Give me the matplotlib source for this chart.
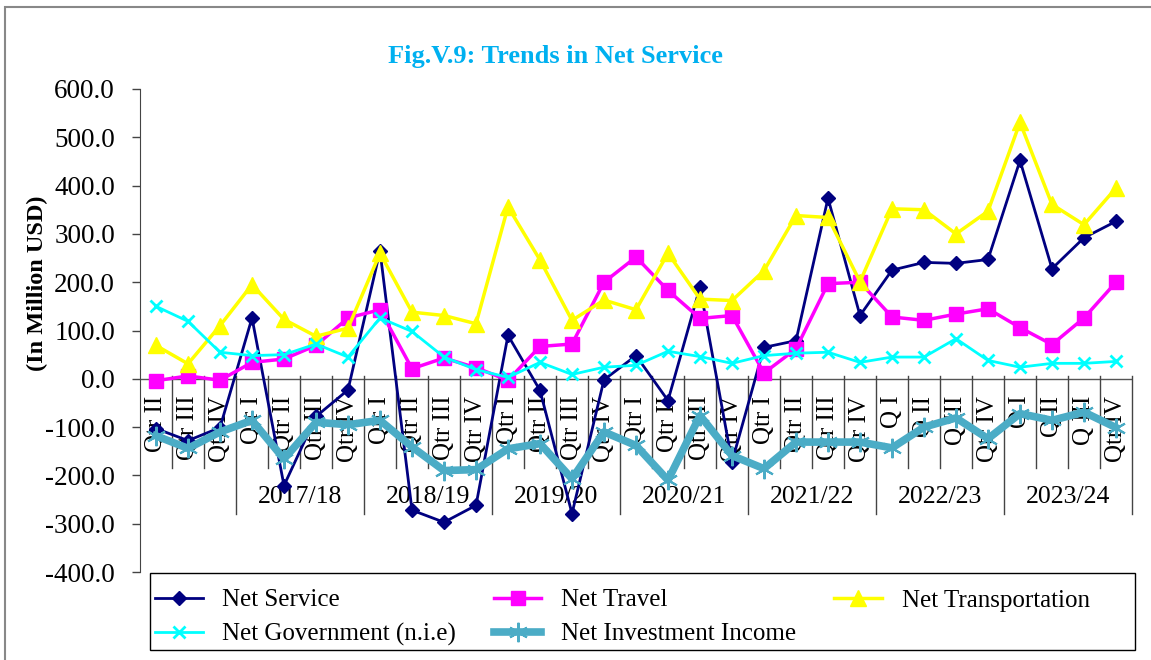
import numpy as np
import matplotlib.pyplot as plt
from matplotlib.patches import Rectangle

plt.rcParams['font.family'] = ['Liberation Serif', 'DejaVu Serif']

# quarter labels (first three belong to 2016/17, no group label shown)
quarters = ['Qtr II', 'Qtr III', 'Qtr IV',
            'Qtr I', 'Qtr II', 'Qtr III', 'Qtr IV',
            'Qtr I', 'Qtr II', 'Qtr III', 'Qtr IV',
            'Qtr I', 'Qtr II', 'Qtr III', 'Qtr IV',
            'Qtr I', 'Qtr II', 'Qtr III', 'Qtr IV',
            'Qtr I', 'Qtr II', 'Qtr III', 'Qtr IV',
            'Q I', 'Q II', 'Q III', 'Qtr IV',
            'Q I', 'Q II', 'Q III', 'Qtr IV']
years = ['2017/18', '2018/19', '2019/20', '2020/21', '2021/22', '2022/23', '2023/24']

net_service = [-103, -128, -101, 126, -221, -78, -23, 265, -272, -297, -262,
               90, -24, -279, -2, 48, -45, 190, -172, 65, 79, 374, 131,
               225, 241, 239, 247, 452, 228, 292, 326]
net_travel = [-4, 6, -3, 34, 41, 69, 126, 143, 21, 43, 23,
              -3, 67, 72, 200, 252, 183, 125, 131, 12, 62, 197, 200,
              128, 121, 134, 145, 106, 71, 126, 200]
net_transport = [69, 31, 110, 195, 123, 88, 105, 260, 138, 131, 114,
                 356, 246, 121, 163, 143, 260, 165, 162, 224, 338, 334, 201,
                 352, 350, 300, 347, 531, 361, 319, 395]
net_government = [150, 119, 55, 48, 50, 72, 45, 126, 98, 45, 19,
                  3, 34, 9, 24, 28, 57, 46, 32, 48, 53, 55, 34,
                  45, 45, 83, 38, 24, 32, 32, 36]
net_investment = [-118, -144, -110, -86, -166, -90, -95, -86, -141, -190, -188,
                  -145, -134, -207, -110, -138, -210, -76, -159, -186, -131, -131, -131,
                  -143, -100, -81, -124, -72, -86, -69, -101]

x = np.arange(len(quarters))

fig = plt.figure(figsize=(11.51, 6.6), dpi=100)
ax = fig.add_axes([140/1151, 1-572/660, 992/1151, 483/660])

ns, = ax.plot(x, net_service, color='#000080', lw=2, marker='D', ms=7, label='Net Service', zorder=5)
nt, = ax.plot(x, net_travel, color='#FF00FF', lw=2.5, marker='s', ms=10, label='Net Travel', zorder=6)
ntr, = ax.plot(x, net_transport, color='#FFFF00', lw=2.5, marker='^', ms=11, label='Net Transportation', zorder=7)
ng, = ax.plot(x, net_government, color='#00FFFF', lw=2, marker='x', ms=9, mew=2,
              label='Net Government (n.i.e)', zorder=8)
ni, = ax.plot(x, net_investment, color='#4BACC6', lw=5.5, marker=(6, 2, 0), ms=14, mew=1.5,
              label='Net Investment Income', zorder=9)

ax.set_xlim(-0.5, len(quarters) - 0.5)
ax.set_ylim(-400, 600)
ax.set_yticks(np.arange(-400, 601, 100))
ax.set_yticklabels(['%.1f' % v for v in np.arange(-400, 601, 100)], fontsize=19.5)
ax.tick_params(axis='y', length=6, width=1, color='#444444', pad=12)
ax.set_xticks([])
for s in ['top', 'right', 'bottom']:
    ax.spines[s].set_visible(False)
ax.spines['left'].set_color('#444444')
ax.axhline(0, color='#555555', lw=1, zorder=1)

# category axis drawn at zero
for i, q in enumerate(quarters):
    ax.text(i, -35, q, rotation=90, ha='center', va='top', fontsize=18, zorder=2)
bounds = np.arange(0.5, len(quarters), 1.0)
group_bounds = [2.5 + 4 * k for k in range(len(years) + 1)]
for b in bounds:
    if b in group_bounds:
        ax.plot([b, b], [6, -279], color='#444444', lw=1, zorder=1, clip_on=False)
    else:
        ax.plot([b, b], [6, -184], color='#444444', lw=1, zorder=1, clip_on=False)
for k, yr in enumerate(years):
    ax.text(4.5 + 4 * k, -245, yr, ha='center', va='center', fontsize=18.5, zorder=2)

ax.set_ylabel('(In Million USD)', fontsize=17.5, fontweight='bold')
ax.yaxis.set_label_coords(-92/992, (572-283)/483)

fig.text(555/1151, 1-56/660, 'Fig.V.9: Trends in Net Service', color='#00B0F0',
         fontsize=19, fontweight='bold', ha='center', va='center')

leg = fig.legend([ns, ng, nt, ni, ntr],
                 ['Net Service', 'Net Government (n.i.e)', 'Net Travel',
                  'Net Investment Income', 'Net Transportation'],
                 ncol=3, loc='upper left',
                 bbox_to_anchor=(155/1151, 1-589/660),
                 fontsize=18, frameon=False,
                 handlelength=1.9, handletextpad=0.8, borderaxespad=0.0,
                 borderpad=0.0, labelspacing=0.45, columnspacing=1.5)

# legend frame
fig.add_artist(Rectangle((150/1151, 1-650/660), 985/1151, 77/660, transform=fig.transFigure,
                         fill=False, ec='black', lw=1))
# outer chart border
fig.add_artist(Rectangle((5/1151, -0.1), 1.2, 1.1 - 7/660, transform=fig.transFigure,
                         fill=False, ec='#888888', lw=1.5))

fig.savefig('out.png', dpi=100)
